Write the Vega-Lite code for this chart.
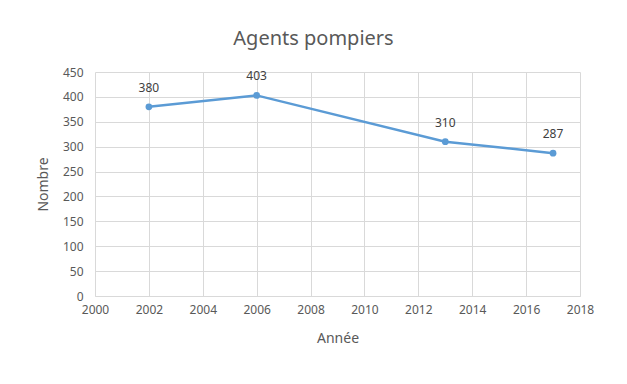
{
  "$schema": "https://vega.github.io/schema/vega-lite/v6.json",
  "width": 485,
  "height": 224,
  "autosize": {"type": "none"},
  "padding": {"left": 95, "top": 72, "right": 47, "bottom": 88},
  "background": "white",
  "config": {
    "font": "Noto Sans",
    "view": {"stroke": null},
    "axis": {
      "labelColor": "#595959",
      "titleColor": "#595959",
      "labelFont": "Noto Sans",
      "titleFont": "Noto Sans",
      "labelFontSize": 12,
      "titleFontSize": 14,
      "titleFontWeight": "normal",
      "gridColor": "#d9d9d9",
      "gridWidth": 1,
      "ticks": false,
      "domain": false
    }
  },
  "title": {
    "text": "Agents pompiers",
    "fontSize": 20,
    "fontWeight": "normal",
    "color": "#595959",
    "font": "Noto Sans",
    "anchor": "middle",
    "dx": -24,
    "offset": 17
  },
  "data": {
    "values": [
      {"Année": 2002, "Nombre": 380},
      {"Année": 2006, "Nombre": 403},
      {"Année": 2013, "Nombre": 310},
      {"Année": 2017, "Nombre": 287}
    ]
  },
  "encoding": {
    "x": {
      "field": "Année",
      "type": "quantitative",
      "scale": {"domain": [2000, 2018], "nice": false, "zero": false},
      "axis": {
        "values": [2000, 2002, 2004, 2006, 2008, 2010, 2012, 2014, 2016, 2018],
        "format": "d",
        "labelPadding": 8,
        "titlePadding": 16,
        "domain": true,
        "domainColor": "#d9d9d9",
        "labelFlush": false
      },
      "title": "Année"
    },
    "y": {
      "field": "Nombre",
      "type": "quantitative",
      "scale": {"domain": [0, 450], "nice": false},
      "axis": {"values": [0, 50, 100, 150, 200, 250, 300, 350, 400, 450], "labelPadding": 12, "titlePadding": 12},
      "title": "Nombre"
    }
  },
  "layer": [
    {
      "mark": {"type": "line", "color": "#5b9bd5", "strokeWidth": 2.5, "point": {"filled": true, "size": 45, "color": "#5b9bd5"}}
    },
    {
      "mark": {"type": "text", "dy": -19, "fontSize": 12, "color": "#404040", "font": "Noto Sans"},
      "encoding": {"text": {"field": "Nombre", "type": "quantitative"}}
    }
  ]
}
